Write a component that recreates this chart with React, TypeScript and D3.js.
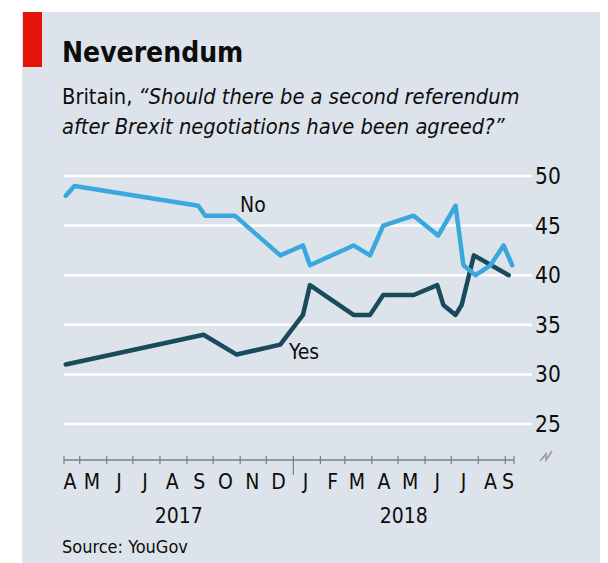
import React from "react";
import * as d3 from "d3";

const noDates = ["2017-04-15","2017-04-25","2017-09-14","2017-09-22","2017-10-26","2017-12-17","2018-01-12","2018-01-20","2018-03-11","2018-03-30","2018-04-14","2018-05-19","2018-06-16","2018-07-06","2018-07-15","2018-07-29","2018-08-15","2018-08-30","2018-09-09"];
const noValues = [48,49,47,46,46,42,43,41,43,42,45,46,44,47,41,40,41,43,41];

const yesDates = ["2017-04-15","2017-09-20","2017-10-28","2017-12-17","2018-01-12","2018-01-20","2018-03-11","2018-03-30","2018-04-14","2018-05-19","2018-06-15","2018-06-22","2018-07-06","2018-07-13","2018-07-27","2018-09-05"];
const yesValues = [31,34,32,33,36,39,36,36,38,38,39,37,36,37,42,40];

const yTicks = [25, 30, 35, 40, 45, 50];
const monthLetters = ["A","M","J","J","A","S","O","N","D","J","F","M","A","M","J","J","A","S"];
const yearLabels = ["2017", "2018"];

const FONT = "'Liberation Sans Narrow', 'DejaVu Sans Condensed', 'Roboto', sans-serif";
const NO_COLOR = "#3aa8dc";
const YES_COLOR = "#1a4b5c";

export default function App() {
  const parse = d3.timeParse("%Y-%m-%d");
  const x = d3.scaleTime()
    .domain([parse("2017-04-13")!, parse("2018-09-11")!])
    .range([64, 514]);
  const y = d3.scaleLinear().domain([25, 50]).range([424, 176]);

  const line = d3.line<[Date, number]>()
    .x(d => x(d[0]))
    .y(d => y(d[1]));

  const noData: [Date, number][] = noDates.map((d, i) => [parse(d)!, noValues[i]]);
  const yesData: [Date, number][] = yesDates.map((d, i) => [parse(d)!, yesValues[i]]);

  const [d0, d1] = x.domain();
  const monthStarts = d3.timeMonth.range(d3.timeMonth.ceil(d0), d1);
  const months = d3.timeMonth.range(d3.timeMonth.floor(d0), d1);
  const [r0, r1] = x.range();
  const axisY = 460;

  const yearStarts = [d3.timeYear.floor(d0), d3.timeYear.ceil(d0)];

  return (
    <div style={{ position: "absolute", left: 0, top: 0 }}>
      <svg width={608} height={563} style={{ display: "block" }}>
        <rect x={0} y={0} width={608} height={563} fill="#ffffff" />
        <rect x={22} y={12} width={578} height={551} fill="#dde3ea" />
        <rect x={23} y={12} width={19} height={55} fill="#e3120b" />

        <text x={62} y={62} fontFamily={FONT} fontWeight="bold" fontSize={28} fill="#0d0d0d">Neverendum</text>
        <text x={62} y={104} fontFamily={FONT} fontSize={21.7} fill="#0d0d0d">
          Britain, <tspan fontStyle="italic">“Should there be a second referendum</tspan>
        </text>
        <text x={62} y={134} fontFamily={FONT} fontSize={21.7} fontStyle="italic" fill="#0d0d0d">
          after Brexit negotiations have been agreed?”
        </text>

        {yTicks.map(t => (
          <g key={t}>
            <line x1={64} x2={532} y1={y(t)} y2={y(t)} stroke="#ffffff" strokeWidth={2.5} />
            <text x={535} y={y(t) + 8} fontFamily={FONT} fontSize={22.5} fill="#0d0d0d">{t}</text>
          </g>
        ))}

        <path d="M540,461 L546,454 L546,460 L552,451" fill="none" stroke="#9a9a9a" strokeWidth={1.6} />

        <line x1={r0} x2={r1} y1={axisY} y2={axisY} stroke="#7a7f84" strokeWidth={1.3} />
        {monthStarts.map((m, i) => {
          const isYear = m.getMonth() === 0;
          return (
            <line key={i} x1={x(m)} x2={x(m)} y1={axisY - 4} y2={isYear ? axisY + 15 : axisY + 4}
              stroke="#7a7f84" strokeWidth={1.2} />
          );
        })}
        <line x1={r0} x2={r0} y1={axisY - 4} y2={axisY + 4} stroke="#7a7f84" strokeWidth={1.2} />
        <line x1={r1} x2={r1} y1={axisY - 4} y2={axisY + 4} stroke="#7a7f84" strokeWidth={1.2} />

        {months.map((m, i) => {
          const mid = d3.timeDay.offset(m, 14);
          const cx = Math.max(r0 + 6, Math.min(r1 - 6, x(mid)));
          return (
            <text key={i} x={cx} y={489} textAnchor="middle" fontFamily={FONT} fontSize={21} fill="#0d0d0d">
              {monthLetters[i]}
            </text>
          );
        })}
        {yearLabels.map((yl, i) => {
          const a = Math.max(r0, x(yearStarts[i]));
          const b = Math.min(r1, x(d3.timeYear.offset(yearStarts[i], 1)));
          return (
            <text key={yl} x={(a + b) / 2} y={523} textAnchor="middle" fontFamily={FONT} fontSize={21} fill="#0d0d0d">{yl}</text>
          );
        })}

        <path d={line(yesData) || ""} fill="none" stroke={YES_COLOR} strokeWidth={4.5} strokeLinejoin="round" strokeLinecap="round" />
        <path d={line(noData) || ""} fill="none" stroke={NO_COLOR} strokeWidth={4.5} strokeLinejoin="round" strokeLinecap="round" />

        <text x={240} y={212} fontFamily={FONT} fontSize={21} fill="#0d0d0d">No</text>
        <text x={289} y={359} fontFamily={FONT} fontSize={21} fill="#0d0d0d">Yes</text>

        <text x={62} y={553} fontFamily={FONT} fontSize={18} fill="#0d0d0d">Source: YouGov</text>
      </svg>
    </div>
  );
}
